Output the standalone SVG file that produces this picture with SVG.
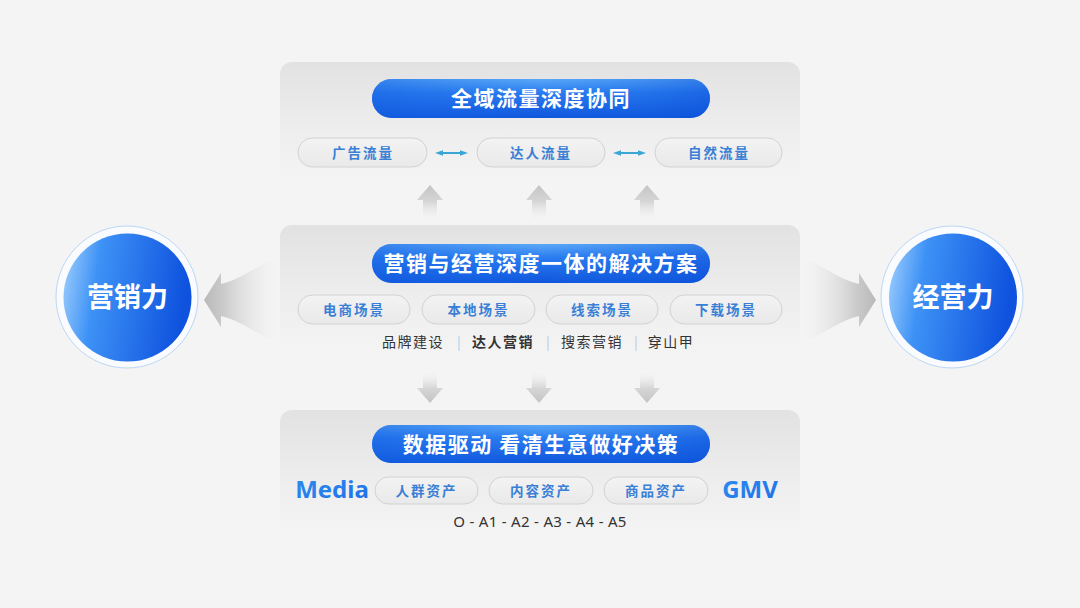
<svg xmlns="http://www.w3.org/2000/svg" width="1080" height="608" viewBox="0 0 1080 608">
<defs>
<linearGradient id="panel" x1="0" y1="0" x2="0" y2="1">
<stop offset="0" stop-color="#e2e2e2"/><stop offset="0.55" stop-color="#eeeeee"/><stop offset="1" stop-color="#f5f5f5"/>
</linearGradient>
<linearGradient id="pill" x1="0" y1="0" x2="0" y2="1">
<stop offset="0" stop-color="#5aa8f7"/><stop offset="0.35" stop-color="#2a7cf0"/><stop offset="1" stop-color="#0f55dc"/>
</linearGradient>
<linearGradient id="pillH" x1="0" y1="0" x2="1" y2="0">
<stop offset="0" stop-color="#1560e2" stop-opacity="0.5"/><stop offset="0.5" stop-color="#1f73ee" stop-opacity="0"/><stop offset="1" stop-color="#0b50d8" stop-opacity="0.5"/>
</linearGradient>
<linearGradient id="sub" x1="0" y1="0" x2="0" y2="1">
<stop offset="0" stop-color="#f3f3f3"/><stop offset="1" stop-color="#e9e9e9"/>
</linearGradient>
<linearGradient id="ball" x1="0" y1="0" x2="1" y2="0.15">
<stop offset="0" stop-color="#a6d3fd"/><stop offset="0.3" stop-color="#3e92f6"/><stop offset="1" stop-color="#0e52de"/>
</linearGradient>
<linearGradient id="txtblue" x1="0" y1="0" x2="1" y2="1">
<stop offset="0" stop-color="#2e8df0"/><stop offset="1" stop-color="#1e6fe6"/>
</linearGradient>
<linearGradient id="upArr" x1="0" y1="0" x2="0" y2="1">
<stop offset="0" stop-color="#c4c4c4"/><stop offset="0.45" stop-color="#d6d6d6"/><stop offset="1" stop-color="#f4f4f4" stop-opacity="0"/>
</linearGradient>
<linearGradient id="downArr" x1="0" y1="1" x2="0" y2="0">
<stop offset="0" stop-color="#c4c4c4"/><stop offset="0.45" stop-color="#d6d6d6"/><stop offset="1" stop-color="#f4f4f4" stop-opacity="0"/>
</linearGradient>
<linearGradient id="leftArr" x1="0" y1="0" x2="1" y2="0">
<stop offset="0" stop-color="#b9b9b9"/><stop offset="0.3" stop-color="#cdcdcd"/><stop offset="1" stop-color="#f2f2f2" stop-opacity="0.2"/>
</linearGradient>
<linearGradient id="rightArr" x1="1" y1="0" x2="0" y2="0">
<stop offset="0" stop-color="#b9b9b9"/><stop offset="0.3" stop-color="#cdcdcd"/><stop offset="1" stop-color="#f2f2f2" stop-opacity="0.2"/>
</linearGradient>
<marker id="dot" viewBox="0 0 6 6" refX="3" refY="3" markerWidth="4" markerHeight="4" orient="auto-start-reverse">
<path d="M0,1 L6,3 L0,5 Z" fill="#3aa6d6"/>
</marker>
<style>
.cjk{font-family:"Noto Sans CJK SC","Noto Sans",sans-serif;}
.title{font-size:21px;font-weight:bold;fill:#ffffff;letter-spacing:1.5px;text-anchor:middle;}
.subt{font-size:13.5px;font-weight:bold;fill:#3a7fd6;letter-spacing:2px;text-anchor:middle;}
.subp{fill:url(#sub);stroke:#d2d2d2;stroke-width:1;}
.row{font-size:14px;fill:#333333;letter-spacing:1.5px;text-anchor:middle;}
.sep{stroke:#a9cbe8;stroke-width:1;}
.ball{font-size:27px;font-weight:bold;fill:#ffffff;text-anchor:middle;}
.big{font-family:"Noto Sans","Open Sans",sans-serif;font-size:24px;font-weight:bold;fill:url(#txtblue);text-anchor:middle;}
</style>
</defs>
<rect x="0" y="0" width="1080" height="608" fill="#f4f4f4"/>

<g id="panel-top">
<rect x="280" y="62" width="520" height="128" rx="12" fill="url(#panel)"/>
<rect x="372" y="79" width="338" height="39" rx="19.5" fill="url(#pill)"/>
<rect x="372" y="79" width="338" height="39" rx="19.5" fill="url(#pillH)"/>
<text class="cjk title" x="541" y="106">全域流量深度协同</text>
<g id="flow-ad"><rect class="subp" x="298" y="138" width="129" height="29" rx="14.5"/><text class="cjk subt" x="363" y="157.5">广告流量</text></g>
<g id="flow-kol"><rect class="subp" x="477" y="138" width="128" height="29" rx="14.5"/><text class="cjk subt" x="541" y="157.5">达人流量</text></g>
<g id="flow-natural"><rect class="subp" x="655" y="138" width="127" height="29" rx="14.5"/><text class="cjk subt" x="719" y="157.5">自然流量</text></g>
</g>

<g id="panel-mid">
<rect x="280" y="225" width="520" height="140" rx="12" fill="url(#panel)"/>
<rect x="372" y="244" width="338" height="39" rx="19.5" fill="url(#pill)"/>
<rect x="372" y="244" width="338" height="39" rx="19.5" fill="url(#pillH)"/>
<text class="cjk title" x="541" y="271">营销与经营深度一体的解决方案</text>
<g id="scene-ec"><rect class="subp" x="298" y="295" width="112" height="29" rx="14.5"/><text class="cjk subt" x="354" y="314.5">电商场景</text></g>
<g id="scene-local"><rect class="subp" x="422" y="295" width="113" height="29" rx="14.5"/><text class="cjk subt" x="478.5" y="314.5">本地场景</text></g>
<g id="scene-lead"><rect class="subp" x="546" y="295" width="112" height="29" rx="14.5"/><text class="cjk subt" x="602" y="314.5">线索场景</text></g>
<g id="scene-dl"><rect class="subp" x="670" y="295" width="112" height="29" rx="14.5"/><text class="cjk subt" x="726" y="314.5">下载场景</text></g>
<text class="cjk row" x="413" y="347">品牌建设</text>
<line class="sep" x1="459" y1="336" x2="459" y2="351"/>
<text class="cjk row" x="503" y="347" font-weight="bold" fill="#222222">达人营销</text>
<line class="sep" x1="548" y1="336" x2="548" y2="351"/>
<text class="cjk row" x="592" y="347">搜索营销</text>
<line class="sep" x1="636" y1="336" x2="636" y2="351"/>
<text class="cjk row" x="671" y="347">穿山甲</text>
</g>

<g id="panel-bottom">
<rect x="280" y="410" width="520" height="135" rx="12" fill="url(#panel)"/>
<rect x="372" y="425" width="338" height="38" rx="19" fill="url(#pill)"/>
<rect x="372" y="425" width="338" height="38" rx="19" fill="url(#pillH)"/>
<text class="cjk title" x="541" y="451.5">数据驱动 看清生意做好决策</text>
<text class="big" x="332" y="498">Media</text>
<text class="big" x="750" y="498">GMV</text>
<g id="asset-crowd"><rect class="subp" x="375" y="477" width="103" height="27" rx="13.5"/><text class="cjk subt" x="426.5" y="495.5">人群资产</text></g>
<g id="asset-content"><rect class="subp" x="489" y="477" width="104" height="27" rx="13.5"/><text class="cjk subt" x="541" y="495.5">内容资产</text></g>
<g id="asset-goods"><rect class="subp" x="604" y="477" width="104" height="27" rx="13.5"/><text class="cjk subt" x="656" y="495.5">商品资产</text></g>
<text x="540" y="527" font-family="Noto Sans, sans-serif" font-size="15" fill="#333333" text-anchor="middle" letter-spacing="0.3">O - A1 - A2 - A3 - A4 - A5</text>
</g>

<g id="connectors">
<g fill="url(#upArr)">
<path d="M430,185 L443,200 L437,200 L437,222 L423,222 L423,200 L417,200 Z"/>
<path d="M539,185 L552,200 L546,200 L546,222 L532,222 L532,200 L526,200 Z"/>
<path d="M647,185 L660,200 L654,200 L654,222 L640,222 L640,200 L634,200 Z"/>
</g>
<g fill="url(#downArr)">
<path d="M430,403 L443,388 L437,388 L437,370 L423,370 L423,388 L417,388 Z"/>
<path d="M539,403 L552,388 L546,388 L546,370 L532,370 L532,388 L526,388 Z"/>
<path d="M647,403 L660,388 L654,388 L654,370 L640,370 L640,388 L634,388 Z"/>
</g>
<path d="M204,300 L221,273 L221,284 C240,280 256,266 276,258 L276,342 C256,334 240,320 221,316 L221,327 Z" fill="url(#leftArr)"/>
<path d="M876,300 L859,273 L859,284 C840,280 824,266 804,258 L804,342 C824,334 840,320 859,316 L859,327 Z" fill="url(#rightArr)"/>
<line x1="439" y1="153" x2="464" y2="153" stroke="#3aa6d6" stroke-width="2" marker-start="url(#dot)" marker-end="url(#dot)"/>
<line x1="617" y1="153" x2="642" y2="153" stroke="#3aa6d6" stroke-width="2" marker-start="url(#dot)" marker-end="url(#dot)"/>
</g>

<g id="node-marketing">
<circle cx="127" cy="297" r="71" fill="#f9fbff" stroke="#bcd6f3" stroke-width="1"/>
<circle cx="127.5" cy="297.5" r="64" fill="url(#ball)"/>
<text class="cjk ball" x="127.5" y="307">营销力</text>
</g>
<g id="node-operation">
<circle cx="952" cy="297" r="71" fill="#f9fbff" stroke="#bcd6f3" stroke-width="1"/>
<circle cx="953" cy="297.5" r="64" fill="url(#ball)"/>
<text class="cjk ball" x="953" y="307">经营力</text>
</g>
</svg>
